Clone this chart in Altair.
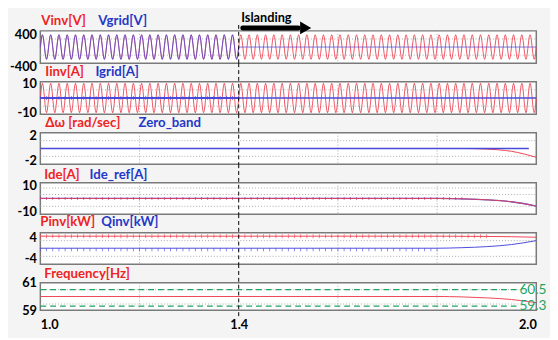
import altair as alt
import pandas as pd

# ---------------- data ----------------
T_DOMAIN = [1.0, 2.0]
T_ISLAND = 1.4
x_grid = [1.2, 1.6, 1.8]
x_labels = [1.0, 1.4, 2.0]

cycles = 60                      # 60 Hz over one second
cycles_before_islanding = 24     # 1.0 s .. 1.4 s
cycle_shape = [0.0, 0.5, 0.866, 1.0, 0.866, 0.5, 0.0, -0.5, -0.866, -1.0, -0.866, -0.5]
vinv_amp = 311
vgrid_amp_before, vgrid_amp_after = 311, 0
iinv_amp = 10
igrid_level = 0.0

dw_t = [1.0, 1.85, 1.9, 1.95, 2.0]
dw_v = [0.0, 0.0, -0.1, -0.45, -1.4]
zero_band_t = [1.0, 1.985]
zero_band_v = [0.0, 0.0]

ide_t = [1.0, 1.8, 1.85, 1.9, 1.95, 2.0]
ide_v = [0.0, 0.0, -0.3, -1.0, -2.5, -5.8]
ide_ref_v = [0.0, 0.0, -0.3, -1.0, -2.5, -5.8]

p_t = [1.0, 1.8, 1.9, 1.95, 2.0]
p_v = [4.7, 4.7, 4.6, 4.5, 4.3]
q_t = [1.0, 1.8, 1.85, 1.9, 1.95, 2.0]
q_v = [0.1, 0.1, 0.3, 0.7, 1.5, 3.0]

f_t = [1.0, 1.8, 1.85, 1.9, 1.95, 2.0]
f_v = [60.0, 60.0, 59.97, 59.9, 59.78, 59.55]
f_limits = [60.5, 59.3]
f_limit_labels = ["60.5", "59.3"]

ripple_step = 1 / 80
ripple_end = {"igrid": 1.4, "ide": 1.85, "p": 1.9, "q": 1.8}

# panel titles: (text, start time, colour key)
titles_1 = [("Vinv[V]", 1.002, "r"), ("Vgrid[V]", 1.117, "b")]
titles_2 = [("Iinv[A]", 1.010, "r"), ("Igrid[A]", 1.111, "b")]
titles_3 = [("Δω [rad/sec]", 1.010, "r"), ("Zero_band", 1.198, "b")]
titles_4 = [("Ide[A]", 1.008, "r"), ("Ide_ref[A]", 1.099, "b")]
titles_5 = [("Pinv[kW]", 1.000, "r"), ("Qinv[kW]", 1.123, "b")]
titles_6 = [("Frequency[Hz]", 1.008, "r")]

# ---------------- styles ----------------
RED = "#ec4452"
BLUE = "#4a4ada"
PURPLE = "#b03a86"
T_RED = "#ee2424"
T_BLUE = "#2438c8"
GREEN = "#1fa462"
GRID = "#a8a8a8"
FONT = "Lato"
W = 506
SPACING = 19

n = cycles * len(cycle_shape)
t_wave = [T_DOMAIN[0] + i / n for i in range(n + 1)]
shape = [cycle_shape[i % len(cycle_shape)] for i in range(n + 1)]
idx_island = cycles_before_islanding * len(cycle_shape)

wave_vinv = pd.DataFrame({"t": t_wave, "v": [vinv_amp * s for s in shape]})
wave_vgrid = pd.DataFrame({"t": t_wave, "v": [(vgrid_amp_before if i <= idx_island else vgrid_amp_after) * s
                                               for i, s in enumerate(shape)]})
wave_iinv = pd.DataFrame({"t": t_wave, "v": [iinv_amp * s for s in shape]})


def ripple(end, level):
    ts = [T_DOMAIN[0] + k * ripple_step for k in range(int(round((end - T_DOMAIN[0]) / ripple_step)) + 1)]
    return pd.DataFrame({"t": ts, "v": [level] * len(ts)})


def title_layers(X, titles, dy):
    out = []
    for text, t0, col in titles:
        out.append(alt.Chart(pd.DataFrame({"t": [t0], "label": [text]})).mark_text(
            align="left", baseline="middle", font=FONT, fontSize=13.5, fontWeight="bold",
            color=T_RED if col == "r" else T_BLUE).encode(x=X, y=alt.value(dy), text="label:N"))
    return out


def panel(height, domain, label_values, grid_y, titles, title_dy, layers_fn,
          label_offset=None, bottom=False, top=False):
    axis_kw = dict(values=label_values, title=None, ticks=False, domain=False, grid=False,
                   labelFont=FONT, labelFontWeight="bold", labelFontSize=13, labelColor="black",
                   labelPadding=4, labelExpr="'' + datum.value")
    if label_offset is not None:
        axis_kw["labelOffset"] = label_offset
    Y = alt.Y("v:Q", scale=alt.Scale(domain=domain, nice=False, zero=False), axis=alt.Axis(**axis_kw))
    if bottom:
        xaxis = alt.Axis(values=x_labels, format=".1f", title=None, ticks=False, domain=False, grid=False,
                         labelFont=FONT, labelFontWeight="bold", labelFontSize=13, labelColor="black",
                         labelPadding=9)
    else:
        xaxis = None
    X = alt.X("t:Q", scale=alt.Scale(domain=T_DOMAIN, nice=False, zero=False), axis=xaxis)

    layers = []
    layers.append(alt.Chart(pd.DataFrame({"t": x_grid})).mark_rule(
        color=GRID, strokeDash=[1, 2], strokeWidth=1).encode(x=X, y=alt.value(0), y2=alt.value(height)))
    layers.append(alt.Chart(pd.DataFrame({"v": grid_y})).mark_rule(
        color=GRID, strokeDash=[1, 2], strokeWidth=1).encode(y=Y, x=alt.value(0), x2=alt.value(W)))
    layers += title_layers(X, titles, title_dy)
    layers += layers_fn(X, Y)
    top_ext = -6 if top else -SPACING
    bot_ext = height + 6 if bottom else height
    layers.append(alt.Chart(pd.DataFrame({"t": [T_ISLAND]})).mark_rule(
        color="black", strokeDash=[4, 3], strokeWidth=1).encode(x=X, y=alt.value(top_ext), y2=alt.value(bot_ext)))
    return alt.layer(*layers).properties(width=W, height=height)


def line(df, color, width=1.0, interp="linear"):
    return alt.Chart(df).mark_line(color=color, strokeWidth=width, interpolate=interp)


# ---- panel 1: voltages ----
def p1_layers(X, Y):
    L = [line(wave_vinv, RED, 0.9).encode(x=X, y=Y),
         line(wave_vgrid, BLUE, 0.8).encode(x=X, y=Y)]
    ann = pd.DataFrame({"t": [1.408], "t2": [1.52]})
    L.append(alt.Chart(ann).mark_rule(color="black", strokeWidth=5, strokeCap="round").encode(
        x=X, x2="t2", y=alt.value(-3)))
    L.append(alt.Chart(pd.DataFrame({"t": [1.535]})).mark_point(
        shape="triangle-right", filled=True, color="black", size=170, opacity=1).encode(x=X, y=alt.value(-3)))
    L.append(alt.Chart(pd.DataFrame({"t": [1.405], "label": ["Islanding"]})).mark_text(
        align="left", baseline="middle", font=FONT, fontSize=13, fontWeight="bold", color="black").encode(
        x=X, y=alt.value(-13), text="label:N"))
    return L


# ---- panel 2: currents ----
def p2_layers(X, Y):
    igrid_pre = pd.DataFrame({"t": [1.0, T_ISLAND], "v": [igrid_level, igrid_level]})
    igrid_post = pd.DataFrame({"t": [T_ISLAND, 2.0], "v": [igrid_level, igrid_level]})
    return [line(wave_iinv, RED, 0.9).encode(x=X, y=Y),
            line(igrid_pre, BLUE, 2.2).encode(x=X, y=Y),
            line(igrid_post, BLUE, 1.5).encode(x=X, y=Y),
            alt.Chart(ripple(ripple_end["igrid"], igrid_level)).mark_tick(
                orient="vertical", size=4, thickness=0.8, color=BLUE, opacity=0.8).encode(x=X, y=Y)]


def p3_layers(X, Y):
    return [line(pd.DataFrame({"t": dw_t, "v": dw_v}), RED, 1.0, "monotone").encode(x=X, y=Y),
            line(pd.DataFrame({"t": zero_band_t, "v": zero_band_v}), BLUE, 1.5).encode(x=X, y=Y)]


def p4_layers(X, Y):
    return [line(pd.DataFrame({"t": ide_t, "v": ide_ref_v}), BLUE, 1.3, "monotone").encode(x=X, y=Y),
            line(pd.DataFrame({"t": ide_t, "v": ide_v}), RED, 0.9, "monotone").encode(x=X, y=Y),
            alt.Chart(ripple(ripple_end["ide"], 0.0)).mark_tick(
                orient="vertical", size=3, thickness=0.8, color=PURPLE, opacity=0.8).encode(x=X, y=Y)]


def p5_layers(X, Y):
    return [line(pd.DataFrame({"t": p_t, "v": p_v}), RED, 1.0, "monotone").encode(x=X, y=Y),
            line(pd.DataFrame({"t": q_t, "v": q_v}), BLUE, 1.0, "monotone").encode(x=X, y=Y),
            alt.Chart(ripple(ripple_end["p"], p_v[0])).mark_tick(
                orient="vertical", size=4, thickness=0.8, color=RED, opacity=0.8).encode(x=X, y=Y),
            alt.Chart(ripple(ripple_end["q"], q_v[0])).mark_tick(
                orient="vertical", size=3, thickness=0.8, color=BLUE, yOffset=1.5, opacity=0.8).encode(x=X, y=Y)]


def p6_layers(X, Y):
    lim = pd.DataFrame({"t": [1.0, 1.96, 1.0, 1.96],
                        "v": [f_limits[0], f_limits[0], f_limits[1], f_limits[1]],
                        "lim": ["hi", "hi", "lo", "lo"]})
    lab = pd.DataFrame({"t": [1.966, 1.966], "v": f_limits, "lab": f_limit_labels})
    return [alt.Chart(lim).mark_line(color=GREEN, strokeDash=[6, 4], strokeWidth=1.1).encode(
                x=X, y=Y, detail="lim:N"),
            line(pd.DataFrame({"t": f_t, "v": f_v}), RED, 1.0, "monotone").encode(x=X, y=Y),
            alt.Chart(lab).mark_text(align="left", baseline="middle", font=FONT, fontSize=14,
                                     color=GREEN).encode(x=X, y=Y, text="lab:N")]


panels = [
    panel(33, [-410, 410], [400, -400], [-205, 205], titles_1, -10, p1_layers,
          label_offset={"condition": {"test": "datum.value < 0", "value": 4}, "value": 3}, top=True),
    panel(33, [-11, 11], [10, -10], [-5.5, 5.5], titles_2, -10, p2_layers),
    panel(32, [-2.5, 2.5], [2, -2], [-1.25, 1.25], titles_3, -10, p3_layers),
    panel(32, [-12, 12], [10, -10], [-6, 3, 8], titles_4, -8, p4_layers),
    panel(32, [-6, 6], [4, -4], [-3, 3], titles_5, -11, p5_layers),
    panel(28, [59, 61], [61, 59], [60.5, 59.45], titles_6, -9, p6_layers, bottom=True),
]

chart = alt.vconcat(*panels, spacing=SPACING, bounds="flush").properties(
    background="#f4f4f4", padding={"left": 0, "top": 0, "right": 2, "bottom": 2}
).configure_view(stroke="#7a7a7a", strokeWidth=1.5, fill="white")

chart.save("out.html", embed_options={"renderer": "svg", "actions": False})
